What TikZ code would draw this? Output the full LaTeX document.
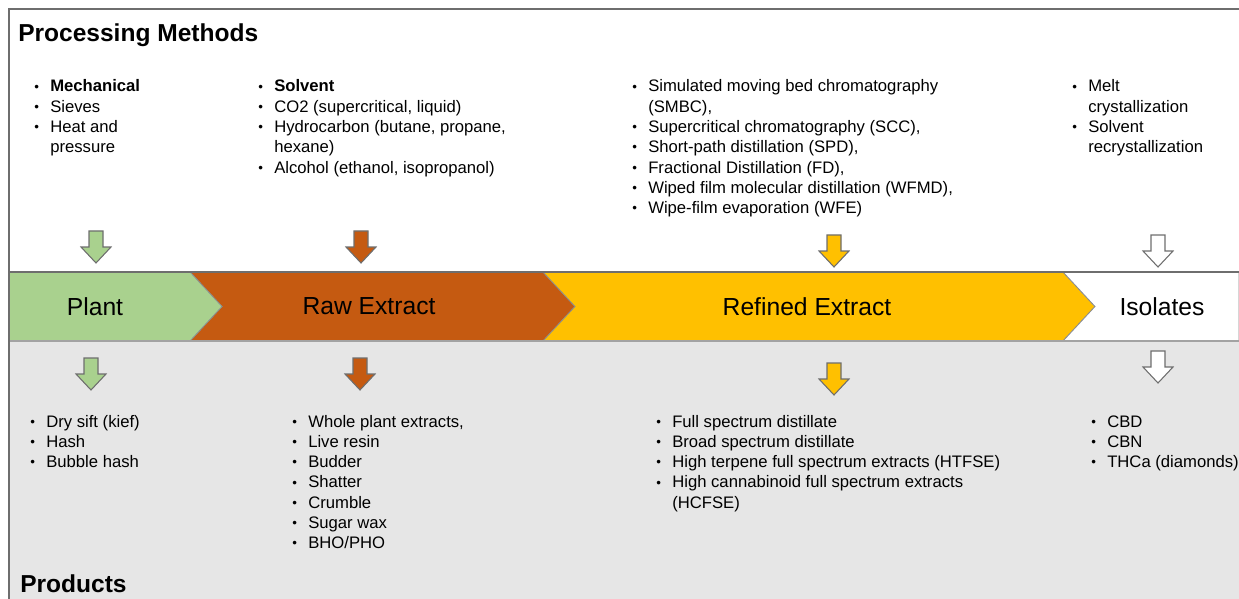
\documentclass[tikz,border=0pt]{standalone}
\usepackage{fontspec}
\setmainfont{Liberation Sans}
\definecolor{cgreen}{HTML}{A9D18E}
\definecolor{corange}{HTML}{C55A11}
\definecolor{cyellow}{HTML}{FFC000}
\definecolor{cbg}{HTML}{E6E6E6}
\definecolor{cframe}{HTML}{6E6E6E}
\definecolor{cedge}{HTML}{8C8C8C}
\newcommand\bul{\makebox[12pt][l]{\raisebox{0.6pt}{\scalebox{0.8}{\textbullet}}}}
\newcommand\blockarr[3]{%
  \filldraw[fill=#3,draw=cframe,line width=0.8] (#1-7,#2) -- (#1+7,#2) -- (#1+7,#2+16) -- (#1+15,#2+16)
   -- (#1,#2+32) -- (#1-15,#2+16) -- (#1-7,#2+16) -- cycle;}
\begin{document}
\begin{tikzpicture}[x=0.75pt,y=-0.75pt,
  lst/.style={anchor=base west,inner sep=0pt,font=\fontsize{12.5pt}{15.2pt}\selectfont},
  stage/.style={inner sep=0pt,font=\fontsize{18.5pt}{22pt}\selectfont},
  heading/.style={anchor=west,inner sep=0pt,font=\fontsize{18.4pt}{22pt}\selectfont\bfseries},
  chev/.style={draw=cedge,line width=0.6}]
\useasboundingbox (0,0) rectangle (1239,599);
% background
\fill[cbg] (9,341) rectangle (1239,599);
% band
\filldraw[chev,fill=corange] (190,272) -- (543,272) -- (575,306.5) -- (543,341) -- (190,341) -- (222,306.5) -- cycle;
\filldraw[chev,fill=cyellow] (543,272) -- (1063,272) -- (1095,306.5) -- (1063,341) -- (543,341) -- (575,306.5) -- cycle;
\filldraw[chev,fill=white] (1063,272) -- (1239,272) -- (1239,341) -- (1063,341) -- (1095,306.5) -- cycle;
\filldraw[chev,fill=cgreen] (9,272) -- (190,272) -- (222,306.5) -- (190,341) -- (9,341) -- cycle;
\draw[cframe,line width=0.9] (9,272) -- (1239,272);
\draw[cedge!80,line width=1] (9,341) -- (1239,341);
% frame
\draw[cframe,line width=0.9] (9,599) -- (9,9) -- (1239,9);
% stage labels
\node[stage] (plant) at (95,306.5) {Plant};
\node[stage] (raw) at (369,306.5) {Raw Extract};
\node[stage] (ref) at (807,306.5) {Refined Extract};
\node[stage] (iso) at (1162,306.5) {Isolates};
% arrows
\blockarr{96}{231}{cgreen}
\blockarr{361}{231}{corange}
\blockarr{834}{235}{cyellow}
\blockarr{1158}{235}{white}
\blockarr{91}{358}{cgreen}
\blockarr{360}{358}{corange}
\blockarr{834}{363}{cyellow}
\blockarr{1158}{351}{white}
% headings
\node[heading] (pm) at (18,35) {Processing Methods};
\node[heading] (pr) at (20,584) {Products};
% top lists
\node[lst] (t1) at (34,92) {\begin{tabular}[t]{@{}l@{}l@{}}
\bul&\textbf{Mechanical}\\ \bul&Sieves\\ \bul&Heat and\\ &pressure\end{tabular}};
\node[lst] (t2) at (258,92) {\begin{tabular}[t]{@{}l@{}l@{}}
\bul&\textbf{Solvent}\\ \bul&CO2 (supercritical, liquid)\\ \bul&Hydrocarbon (butane, propane,\\ &hexane)\\ \bul&Alcohol (ethanol, isopropanol)\end{tabular}};
\node[lst] (t3) at (632,92) {\begin{tabular}[t]{@{}l@{}l@{}}
\bul&Simulated moving bed chromatography\\ &(SMBC),\\ \bul&Supercritical chromatography (SCC),\\ \bul&Short-path distillation (SPD),\\ \bul&Fractional Distillation (FD),\\ \bul&Wiped film molecular distillation (WFMD),\\ \bul&Wipe-film evaporation (WFE)\end{tabular}};
\node[lst] (t4) at (1072,92) {\begin{tabular}[t]{@{}l@{}l@{}}
\bul&Melt\\ &crystallization\\ \bul&Solvent\\ &recrystallization\end{tabular}};
% bottom lists
\node[lst] (b1) at (30,427) {\begin{tabular}[t]{@{}l@{}l@{}}
\bul&Dry sift (kief)\\ \bul&Hash\\ \bul&Bubble hash\end{tabular}};
\node[lst] (b2) at (292,427) {\begin{tabular}[t]{@{}l@{}l@{}}
\bul&Whole plant extracts,\\ \bul&Live resin\\ \bul&Budder\\ \bul&Shatter\\ \bul&Crumble\\ \bul&Sugar wax\\ \bul&BHO/PHO\end{tabular}};
\node[lst] (b3) at (656,427) {\begin{tabular}[t]{@{}l@{}l@{}}
\bul&Full spectrum distillate\\ \bul&Broad spectrum distillate\\ \bul&High terpene full spectrum extracts (HTFSE)\\ \bul&High cannabinoid full spectrum extracts\\ &(HCFSE)\end{tabular}};
\node[lst] (b4) at (1091,427) {\begin{tabular}[t]{@{}l@{}l@{}}
\bul&CBD\\ \bul&CBN\\ \bul&THCa (diamonds)\end{tabular}};
\end{tikzpicture}
\end{document}
